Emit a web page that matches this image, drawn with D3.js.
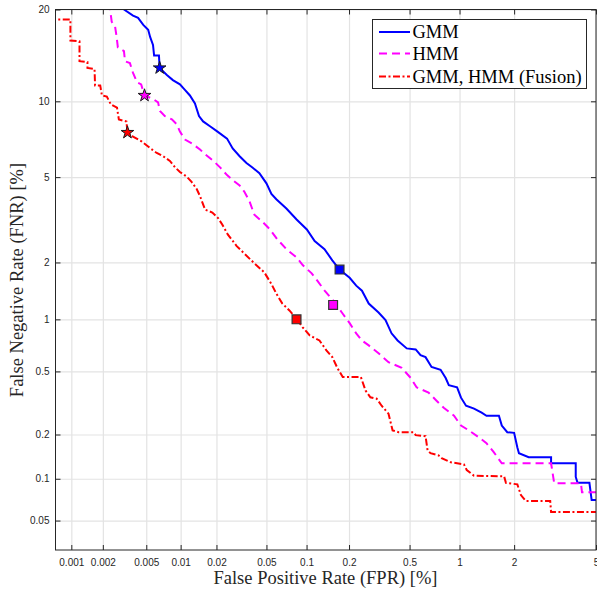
<!DOCTYPE html>
<html>
<head>
<meta charset="utf-8">
<script src="https://cdn.jsdelivr.net/npm/d3@7"></script>
<style>body{margin:0;background:#fff}</style>
</head>
<body>
<div class="chart-container"></div>
<script>
// tick values / labels, in percent
const xTicks = [0.001, 0.002, 0.005, 0.01, 0.02, 0.05, 0.1, 0.2, 0.5, 1, 2, 5]
const xTickLabels = ["0.001", "0.002", "0.005", "0.01", "0.02", "0.05", "0.1", "0.2", "0.5", "1", "2", "5"]
const yTicks = [0.05, 0.1, 0.2, 0.5, 1, 2, 5, 10, 20]
const yTickLabels = ["0.05", "0.1", "0.2", "0.5", "1", "2", "5", "10", "20"]
const xLimits = [0.0007, 5]
const yLimits = [0.03, 20]

// GMM curve (FPR %, FNR %)
const gmmFpr = [0.00305, 0.00314, 0.0038, 0.00422, 0.0047, 0.0052, 0.00542, 0.00574, 0.00587, 0.00648, 0.00657, 0.0076, 0.00857, 0.00986, 0.01088, 0.012, 0.01324, 0.01432, 0.0155, 0.0178, 0.0204, 0.0244, 0.0271, 0.0308, 0.0349, 0.0389, 0.0441, 0.05, 0.0546, 0.0595, 0.0709, 0.0845, 0.1005, 0.1145, 0.1347, 0.153, 0.172, 0.202, 0.224, 0.245, 0.272, 0.316, 0.351, 0.384, 0.42, 0.48, 0.546, 0.585, 0.628, 0.683, 0.774, 0.83, 0.866, 0.968, 1.02, 1.09, 1.21, 1.335, 1.42, 1.66, 1.72, 1.84, 2.0, 2.08, 2.12, 2.38, 3.08, 3.08, 4.04, 4.04, 4.12, 4.67, 4.78, 5.5]
const gmmFnr = [21, 20, 19.2, 18.9, 18.0, 17.4, 16.5, 15.6, 14.4, 14.4, 13.1, 12.4, 11.9, 11.5, 11.0, 10.5, 9.82, 8.81, 8.41, 8.04, 7.68, 7.21, 6.58, 6.12, 5.74, 5.49, 5.2, 4.7, 4.22, 4.0, 3.63, 3.23, 2.9, 2.55, 2.33, 2.05, 1.84, 1.67, 1.52, 1.43, 1.22, 1.09, 0.991, 0.835, 0.76, 0.684, 0.675, 0.624, 0.608, 0.532, 0.511, 0.456, 0.412, 0.40, 0.345, 0.307, 0.294, 0.277, 0.265, 0.265, 0.229, 0.207, 0.205, 0.164, 0.15, 0.141, 0.141, 0.128, 0.128, 0.103, 0.0936, 0.0936, 0.0705, 0.0705]

// HMM curve
const hmmFpr = [0.00232, 0.00234, 0.00242, 0.0026, 0.00269, 0.00276, 0.00314, 0.00321, 0.00356, 0.0038, 0.00413, 0.0045, 0.00482, 0.00575, 0.00636, 0.00661, 0.00731, 0.0084, 0.00929, 0.00986, 0.0109, 0.0125, 0.0146, 0.0161, 0.0189, 0.0215, 0.0244, 0.0271, 0.0308, 0.0337, 0.0369, 0.0403, 0.0466, 0.0527, 0.0606, 0.0709, 0.0845, 0.0937, 0.109, 0.12, 0.135, 0.156, 0.18, 0.202, 0.224, 0.245, 0.272, 0.316, 0.367, 0.446, 0.509, 0.553, 0.655, 0.732, 0.808, 0.929, 1.02, 1.13, 1.285, 1.42, 1.56, 1.72, 3.08, 3.19, 4.27, 4.32, 5.5]
const hmmFnr = [21, 20, 18.4, 17.8, 16.5, 15.3, 14.9, 13.8, 13.6, 12.6, 11.7, 11.5, 10.5, 10.2, 9.91, 9.21, 8.81, 8.57, 8.19, 7.68, 7.15, 6.89, 6.52, 6.24, 5.85, 5.49, 5.1, 4.85, 4.6, 4.31, 3.91, 3.40, 3.15, 2.92, 2.6, 2.33, 2.12, 1.94, 1.76, 1.61, 1.43, 1.26, 1.08, 0.952, 0.834, 0.76, 0.712, 0.641, 0.568, 0.525, 0.456, 0.40, 0.371, 0.33, 0.298, 0.265, 0.229, 0.213, 0.192, 0.175, 0.152, 0.128, 0.128, 0.0931, 0.0931, 0.0802, 0.0802]

// GMM, HMM (Fusion) curve
const fusFpr = [0.0006, 0.00098, 0.00098, 0.0012, 0.0012, 0.00143, 0.00143, 0.00167, 0.00169, 0.00189, 0.00196, 0.00218, 0.00238, 0.00271, 0.00282, 0.00331, 0.00338, 0.0038, 0.00456, 0.00542, 0.00619, 0.00702, 0.00808, 0.00893, 0.00986, 0.01125, 0.0124, 0.0137, 0.0146, 0.0161, 0.0185, 0.0207, 0.0223, 0.0248, 0.0292, 0.0337, 0.0403, 0.0482, 0.0546, 0.0595, 0.0661, 0.0747, 0.0844, 0.0937, 0.1055, 0.124, 0.139, 0.153, 0.166, 0.181, 0.241, 0.259, 0.279, 0.307, 0.331, 0.367, 0.39, 0.426, 0.531, 0.546, 0.628, 0.646, 0.673, 0.753, 0.785, 0.89, 1.06, 1.10, 1.21, 1.77, 1.81, 2.08, 2.17, 2.3, 3.05, 3.08, 5.5]
const fusFnr = [18.7, 18.7, 16.1, 16.0, 13.8, 13.7, 13.1, 13.0, 11.4, 11.4, 10.5, 10.4, 9.73, 9.47, 8.55, 8.41, 7.62, 7.34, 7.02, 6.6, 6.31, 6.13, 5.85, 5.51, 5.26, 5.03, 4.77, 4.44, 4.13, 3.59, 3.48, 3.27, 3.06, 2.74, 2.41, 2.21, 1.98, 1.78, 1.55, 1.38, 1.22, 1.12, 1.005, 0.903, 0.812, 0.76, 0.666, 0.608, 0.525, 0.462, 0.462, 0.382, 0.347, 0.34, 0.307, 0.273, 0.213, 0.207, 0.207, 0.198, 0.195, 0.157, 0.15, 0.145, 0.139, 0.13, 0.126, 0.115, 0.105, 0.104, 0.0936, 0.0913, 0.0766, 0.0694, 0.0694, 0.0578, 0.0578]

// highlighted operating points: GMM, HMM, Fusion
const starFpr = [0.00657, 0.00482, 0.00338]
const starFnr = [13.1, 10.5, 7.62]
const squareFpr = [0.172, 0.155, 0.0844]
const squareFnr = [1.84, 1.2, 1.0]

const seriesNames = ["GMM", "HMM", "GMM, HMM (Fusion)"]

// styles
const colors = ["#0000ff", "#ff00ff", "#ff0000"]
const dashes = [null, "8,5", "7,2.5,2,2.5"]

// inverse normal cdf (Acklam)
function probit(p) {
  const a = [-3.969683028665376e+01, 2.209460984245205e+02, -2.759285104469687e+02, 1.383577518672690e+02, -3.066479806614716e+01, 2.506628277459239e+00]
  const b = [-5.447609879822406e+01, 1.615858368580409e+02, -1.556989798598866e+02, 6.680131188771972e+01, -1.328068155288572e+01]
  const c = [-7.784894002430293e-03, -3.223964580411365e-01, -2.400758277161838e+00, -2.549732539343734e+00, 4.374664141464968e+00, 2.938163982698783e+00]
  const d = [7.784695709041462e-03, 3.224671290700398e-01, 2.445134137142996e+00, 3.754408661907416e+00]
  const pl = 0.02425
  let q, r
  if (p < pl) {
    q = Math.sqrt(-2 * Math.log(p))
    return (((((c[0]*q+c[1])*q+c[2])*q+c[3])*q+c[4])*q+c[5]) / ((((d[0]*q+d[1])*q+d[2])*q+d[3])*q+1)
  }
  if (p > 1 - pl) {
    q = Math.sqrt(-2 * Math.log(1 - p))
    return -(((((c[0]*q+c[1])*q+c[2])*q+c[3])*q+c[4])*q+c[5]) / ((((d[0]*q+d[1])*q+d[2])*q+d[3])*q+1)
  }
  q = p - 0.5; r = q * q
  return (((((a[0]*r+a[1])*r+a[2])*r+a[3])*r+a[4])*r+a[5])*q / (((((b[0]*r+b[1])*r+b[2])*r+b[3])*r+b[4])*r+1)
}
const pz = v => probit(v / 100)

const W = 597, H = 592
const L = 55.5, R = 596, T = 9.5, B = 550

svg = d3.select(".chart-container").append("svg").attr("width", W).attr("height", H)

// probit (normal deviate) scales
const sx = d3.scaleLinear().domain(xLimits.map(pz)).range([L, R])
const sy = d3.scaleLinear().domain(yLimits.map(pz)).range([B, T])
const x = v => sx(pz(v))
const y = v => sy(pz(v))

// grid
gx = svg.append("g").attr("transform", `translate(0,${B})`)
  .call(d3.axisBottom(sx).tickValues(xTicks.map(pz)).tickSize(-(B - T)).tickFormat(""))
gy = svg.append("g").attr("transform", `translate(${L},0)`)
  .call(d3.axisLeft(sy).tickValues(yTicks.map(pz)).tickSize(-(R - L)).tickFormat(""))
svg.selectAll("g").select(".domain").remove()
svg.selectAll("g line").attr("stroke", "#e3e3e3").attr("stroke-width", 1.2)

// clip
svg.append("clipPath").attr("id", "plot").append("rect")
  .attr("x", L).attr("y", T).attr("width", R - L).attr("height", B - T)

const series = [[gmmFpr, gmmFnr], [hmmFpr, hmmFnr], [fusFpr, fusFnr]]
const line = d3.line().x(d => x(d[0])).y(d => y(d[1]))

curves = svg.append("g").attr("clip-path", "url(#plot)")
series.forEach((s, i) => {
  curves.append("path")
    .datum(d3.zip(s[0], s[1]))
    .attr("d", line)
    .attr("fill", "none")
    .attr("stroke", colors[i])
    .attr("stroke-width", 2)
    .attr("stroke-dasharray", dashes[i])
})

// markers
markers = svg.append("g")
markers.selectAll(".star").data(d3.zip(starFpr, starFnr))
  .enter().append("path")
  .attr("d", d3.symbol().type(d3.symbolStar).size(50))
  .attr("transform", d => `translate(${x(d[0])},${y(d[1])})`)
  .attr("fill", (d, i) => colors[i])
  .attr("stroke", "#1a1a1a").attr("stroke-width", 1)
markers.selectAll(".sq").data(d3.zip(squareFpr, squareFnr))
  .enter().append("path")
  .attr("d", d3.symbol().type(d3.symbolSquare).size(78))
  .attr("transform", d => `translate(${x(d[0])},${y(d[1])})`)
  .attr("fill", (d, i) => colors[i])
  .attr("stroke", "#333").attr("stroke-width", 1.2)

// box
svg.append("rect").attr("x", L).attr("y", T).attr("width", R - L).attr("height", B - T)
  .attr("fill", "none").attr("stroke", "#262626").attr("stroke-width", 1)

// axes with inward ticks
function styleAxis(g) {
  g.select(".domain").remove()
  g.attr("color", "#262626")
  g.selectAll("text").attr("font-family", "'Liberation Sans', Arial, sans-serif").attr("font-size", 10)
}
svg.append("g").attr("transform", `translate(0,${B})`)
  .call(d3.axisBottom(sx).tickValues(xTicks.map(pz)).tickSizeInner(-5).tickSizeOuter(0).tickPadding(8.5)
    .tickFormat((d, i) => xTickLabels[i])).call(styleAxis)
svg.append("g").attr("transform", `translate(0,${T})`)
  .call(d3.axisTop(sx).tickValues(xTicks.map(pz)).tickSizeInner(-5).tickSizeOuter(0).tickFormat("")).call(styleAxis)
svg.append("g").attr("transform", `translate(${L},0)`)
  .call(d3.axisLeft(sy).tickValues(yTicks.map(pz)).tickSizeInner(-5).tickSizeOuter(0).tickPadding(6)
    .tickFormat((d, i) => yTickLabels[i])).call(styleAxis)
svg.append("g").attr("transform", `translate(${R},0)`)
  .call(d3.axisRight(sy).tickValues(yTicks.map(pz)).tickSizeInner(-5).tickSizeOuter(0).tickFormat("")).call(styleAxis)

// axis labels
const serif = "'Liberation Serif', 'Times New Roman', serif"
svg.append("text").attr("x", 325.5).attr("y", 584).attr("text-anchor", "middle")
  .attr("font-family", serif).attr("font-size", 18.5).attr("fill", "#262626")
  .text("False Positive Rate (FPR) [%]")
svg.append("text").attr("transform", "translate(23,280) rotate(-90)").attr("text-anchor", "middle")
  .attr("font-family", serif).attr("font-size", 18.5).attr("fill", "#262626")
  .text("False Negative Rate (FNR) [%]")

// legend
legend = svg.append("g")
legend.append("rect").attr("x", 372.5).attr("y", 19.5).attr("width", 214).attr("height", 69)
  .attr("fill", "#fff").attr("stroke", "#262626").attr("stroke-width", 1)
const legY = [32, 53.5, 76.5]
seriesNames.forEach((name, i) => {
  legend.append("line").attr("x1", 379).attr("x2", 410).attr("y1", legY[i]).attr("y2", legY[i])
    .attr("stroke", colors[i]).attr("stroke-width", 2).attr("stroke-dasharray", dashes[i])
  legend.append("text").attr("x", 412.5).attr("y", legY[i] + 6)
    .attr("font-family", serif).attr("font-size", 18.5).attr("fill", "#000")
    .text(name)
})
</script>
</body>
</html>
